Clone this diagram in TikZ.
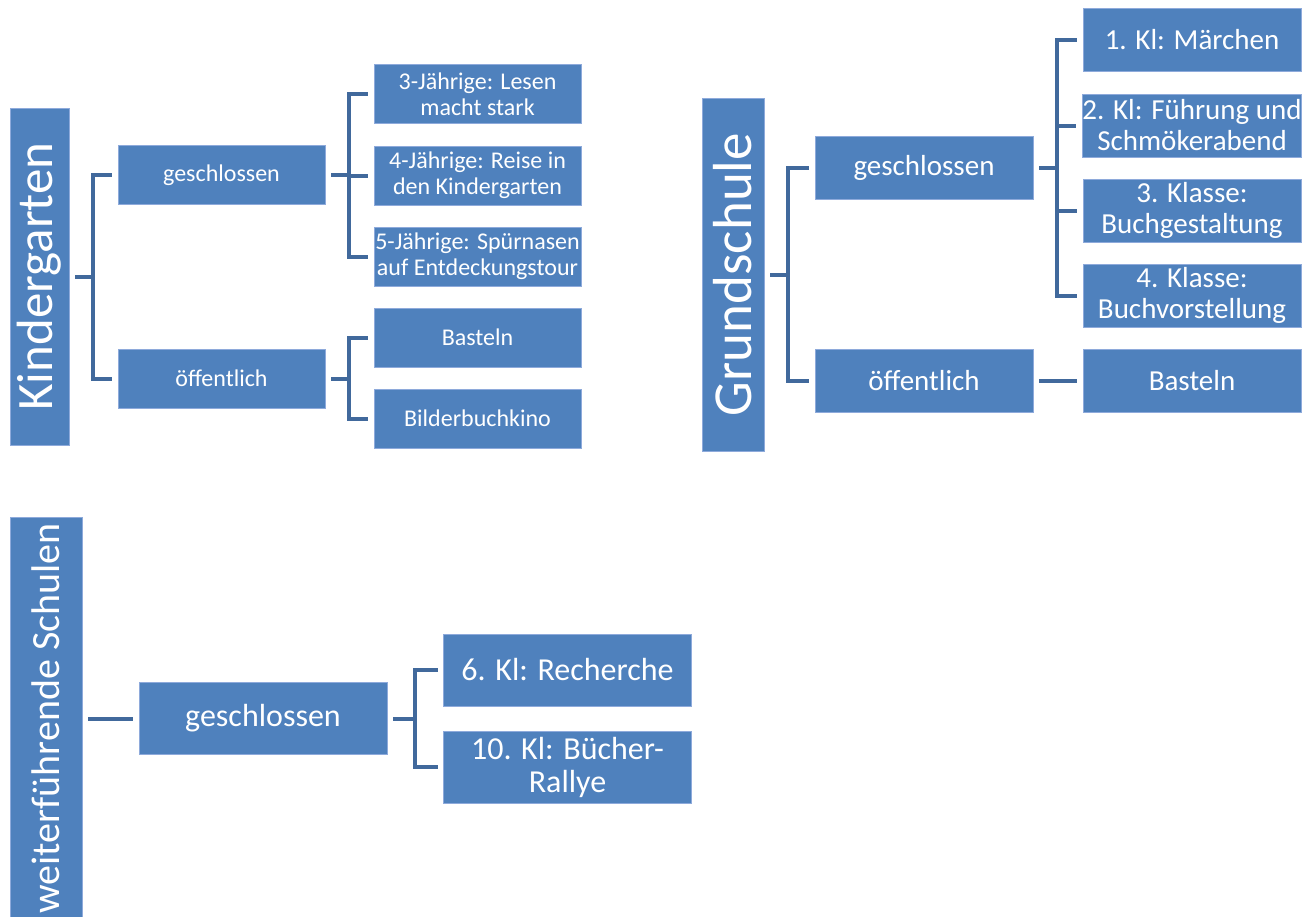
\documentclass[tikz,border=0pt]{standalone}
\usepackage{fontspec}
\setmainfont{Carlito}
\usepackage{graphicx}
\usepackage{xcolor}
\usepackage{tikz}
\usetikzlibrary{calc}
\definecolor{boxBlue}{HTML}{4F81BD}
\definecolor{boxEdge}{HTML}{8EAADB}
\definecolor{lineBlue}{HTML}{41699C}

\begin{document}
\begin{tikzpicture}[x=0.5pt, y=-0.5pt,
  root/.style={fill=boxBlue, draw=boxEdge, line width=0.4pt, text=white, inner sep=0pt},
  box/.style={fill=boxBlue, draw=boxEdge, line width=0.4pt, text=white, inner sep=0pt, align=center},
  kbox/.style={box, minimum width=103.5pt, minimum height=29.5pt, font=\fontsize{12}{13}\selectfont},
  gbox/.style={box, minimum width=109pt, minimum height=31.5pt, font=\fontsize{14.5}{15.5}\selectfont},
  wbox/.style={box, minimum width=124pt, minimum height=36pt, font=\fontsize{16}{16.5}\selectfont},
  conn/.style={draw=lineBlue, line width=2pt}]
\useasboundingbox (0,0) rectangle (1316,916);
\clip (0,0) rectangle (1316,916);
% Kindergarten
\node[root, minimum width=29.5pt, minimum height=168.5pt, font=\fontsize{25.5}{27}\selectfont] (kg) at (39.5,276.5) {\rotatebox{90}{Kindergarten}};
\node[kbox] (kgG) at (221.5,175) {geschlossen};
\node[kbox] (kgO) at (221.5,378.5) {öffentlich};
\node[kbox] (kgG1) at (477.5,94) {3-Jährige: Lesen\\macht stark};
\node[kbox] (kgG2) at (477.5,175.5) {4-Jährige: Reise in\\den Kindergarten};
\node[kbox] (kgG3) at (477.5,256.5) {5-Jährige: Spürnasen\\auf Entdeckungstour};
\node[kbox] (kgO1) at (477.5,337.5) {Basteln};
\node[kbox] (kgO2) at (477.5,418.5) {Bilderbuchkino};
\draw[conn] ($(kg.east)+(6,0)$) -- ++(18,0) |- ($(kgG.west)+(-6,0)$);
\draw[conn] ($(kg.east)+(6,0)$) -- ++(18,0) |- ($(kgO.west)+(-6,0)$);
\draw[conn] ($(kgG.east)+(6,0)$) -- ++(18,0) |- ($(kgG1.west)+(-6,0)$);
\draw[conn] ($(kgG.east)+(6,0)$) -- ++(18,0) |- ($(kgG2.west)+(-6,0)$);
\draw[conn] ($(kgG.east)+(6,0)$) -- ++(18,0) |- ($(kgG3.west)+(-6,0)$);
\draw[conn] ($(kgO.east)+(6,0)$) -- ++(18,0) |- ($(kgO1.west)+(-6,0)$);
\draw[conn] ($(kgO.east)+(6,0)$) -- ++(18,0) |- ($(kgO2.west)+(-6,0)$);
% Grundschule
\node[root, minimum width=31pt, minimum height=176.5pt, font=\fontsize{27.5}{29}\selectfont] (gs) at (733,274.5) {\rotatebox{90}{Grundschule}};
\node[gbox] (gsG) at (924,168) {geschlossen};
\node[gbox] (gsO) at (924,380.5) {öffentlich};
\node[gbox] (gsG1) at (1192,40) {1. Kl: Märchen};
\node[gbox] (gsG2) at (1192,125.5) {2. Kl: Führung und\\Schmökerabend};
\node[gbox] (gsG3) at (1192,210.5) {3. Klasse:\\Buchgestaltung};
\node[gbox] (gsG4) at (1192,295.5) {4. Klasse:\\Buchvorstellung};
\node[gbox] (gsO1) at (1192,380.5) {Basteln};
\draw[conn] ($(gs.east)+(6,0)$) -- ++(18,0) |- ($(gsG.west)+(-6,0)$);
\draw[conn] ($(gs.east)+(6,0)$) -- ++(18,0) |- ($(gsO.west)+(-6,0)$);
\draw[conn] ($(gsG.east)+(6,0)$) -- ++(18,0) |- ($(gsG1.west)+(-6,0)$);
\draw[conn] ($(gsG.east)+(6,0)$) -- ++(18,0) |- ($(gsG2.west)+(-6,0)$);
\draw[conn] ($(gsG.east)+(6,0)$) -- ++(18,0) |- ($(gsG3.west)+(-6,0)$);
\draw[conn] ($(gsG.east)+(6,0)$) -- ++(18,0) |- ($(gsG4.west)+(-6,0)$);
\draw[conn] ($(gsO.east)+(6,0)$) -- ($(gsO1.west)+(-6,0)$);
% weiterfuehrende Schulen
\node[root, minimum width=36pt, minimum height=201.5pt, font=\fontsize{20}{21}\selectfont] (ws) at (46,718.5) {\rotatebox{90}{weiterführende Schulen}};
\node[wbox] (wsG) at (263,718.5) {geschlossen};
\node[wbox] (wsG1) at (567.5,670) {6. Kl: Recherche};
\node[wbox] (wsG2) at (567.5,767) {10. Kl: Bücher-\\Rallye};
\draw[conn] ($(wsG.west -| ws.east)+(6,0)$) -- ($(wsG.west)+(-6,0)$);
\draw[conn] ($(wsG.east)+(6,0)$) -- ++(22,0) |- ($(wsG1.west)+(-5,0)$);
\draw[conn] ($(wsG.east)+(6,0)$) -- ++(22,0) |- ($(wsG2.west)+(-5,0)$);
\end{tikzpicture}
\end{document}
